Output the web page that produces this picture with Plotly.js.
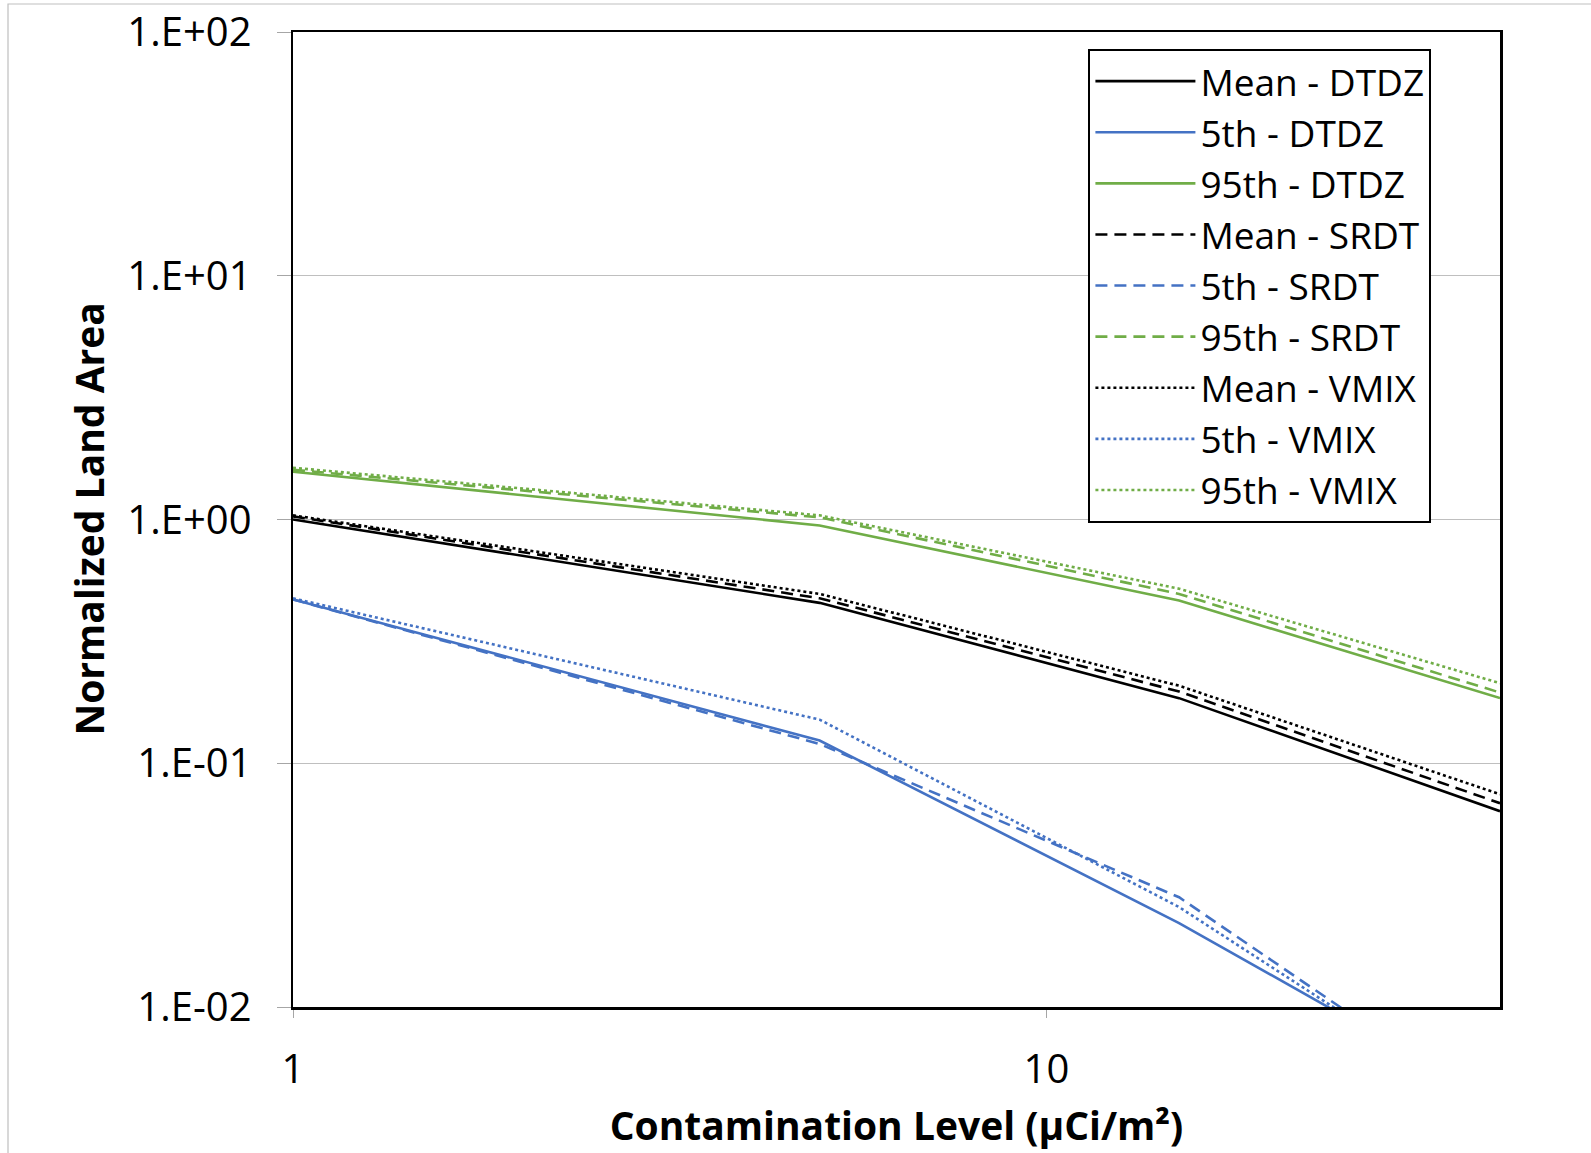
<!DOCTYPE html>
<html>
<head>
<meta charset="utf-8">
<script src="https://cdn.plot.ly/plotly-3.0.1.min.js"></script>
<style>html,body{margin:0;padding:0;background:#fff;}#chart{width:1591px;height:1153px;}</style>
</head>
<body>
<div id="chart"></div>
<script>
// Contamination level (µCi/m²)
const contamination = [1, 5, 15, 40];

// Normalized land area series
const meanDTDZ = [1.0, 0.455, 0.185, 0.0636];
const p5DTDZ   = [0.47, 0.124, 0.0221, 0.0040];
const p95DTDZ  = [1.57, 0.945, 0.465, 0.185];
const meanSRDT = [1.03, 0.475, 0.197, 0.0686];
const p5SRDT   = [0.47, 0.120, 0.0282, 0.00357];
const p95SRDT  = [1.60, 1.02, 0.495, 0.195];
const meanVMIX = [1.04, 0.495, 0.208, 0.0746];
const p5VMIX   = [0.475, 0.151, 0.0257, 0.0036];
const p95VMIX  = [1.63, 1.04, 0.52, 0.213];

const seriesNames = ["Mean - DTDZ","5th - DTDZ","95th - DTDZ","Mean - SRDT","5th - SRDT","95th - SRDT","Mean - VMIX","5th - VMIX","95th - VMIX"];
const seriesValues = [meanDTDZ,p5DTDZ,p95DTDZ,meanSRDT,p5SRDT,p95SRDT,meanVMIX,p5VMIX,p95VMIX];

const yTickVals = [0.01, 0.1, 1, 10, 100];
const yTickText = ["1.E-02","1.E-01","1.E+00","1.E+01","1.E+02"];
const xTickVals = [1, 10];
const xTickText = ["1","10"];
const xTitle = "Contamination Level (μCi/m²)";
const yTitle = "Normalized Land Area";

const colors = ["#000000","#4472C4","#70AD47"];
const dashes = ["solid","12px,7px","3px,3px"];

const traces = seriesValues.map((vals, i) => ({
  type: "scatter",
  mode: "lines",
  name: seriesNames[i],
  x: contamination,
  y: vals,
  line: {color: colors[i % 3], dash: dashes[Math.floor(i / 3)], width: 2.6}
}));

const FONT = "'Open Sans', Lato, 'DejaVu Sans', sans-serif";

const layout = {
  width: 1591,
  height: 1153,
  paper_bgcolor: "#ffffff",
  plot_bgcolor: "#ffffff",
  margin: {l: 293, r: 91, t: 32, b: 146},
  font: {family: FONT, color: "#000000", size: 36},
  showlegend: true,
  legend: {
    x: 0.659, y: 0.983, xanchor: "left", yanchor: "top",
    bordercolor: "#000000", borderwidth: 2, bgcolor: "#ffffff",
    font: {family: FONT, size: 37, color: "#000000"},
    itemwidth: 100,
    tracegroupgap: 0
  },
  xaxis: {
    type: "log",
    range: [0, Math.log10(40)],
    tickvals: xTickVals,
    ticktext: xTickText,
    ticks: "outside",
    ticklen: 8,
    tickcolor: "#a6a6a6",
    ticklabelstandoff: 17,
    showgrid: false,
    zeroline: false,
    showline: true,
    linecolor: "#000000",
    linewidth: 2.5,
    mirror: true,
    tickfont: {family: FONT, size: 40, color: "#000000"},
    title: {text: "<b>" + xTitle + "</b>", font: {family: FONT, size: 39, color: "#000000"}, standoff: 19}
  },
  yaxis: {
    type: "log",
    range: [-2, 2],
    tickvals: yTickVals,
    ticktext: yTickText,
    ticks: "outside",
    ticklen: 14,
    tickcolor: "#a6a6a6",
    ticklabelstandoff: 17,
    showgrid: true,
    gridcolor: "#bfbfbf",
    gridwidth: 1.3,
    zeroline: false,
    showline: true,
    linecolor: "#000000",
    linewidth: 2.5,
    mirror: true,
    tickfont: {family: FONT, size: 40, color: "#000000"}
  },
  annotations: [{
    text: "<b>" + yTitle + "</b>",
    xref: "paper", yref: "paper",
    x: -205/1207, y: 0.5, xanchor: "center", yanchor: "middle",
    textangle: -90, showarrow: false,
    font: {family: FONT, size: 39, color: "#000000"}
  }],
  shapes: [{
    type: "rect", xref: "paper", yref: "paper",
    x0: -285/1207, x1: 1.2, y0: -0.2, y1: 1 + 28/975,
    line: {color: "#bfbfbf", width: 1.2}, fillcolor: "rgba(0,0,0,0)", layer: "below"
  }]
};

Plotly.newPlot("chart", traces, layout, {displayModeBar: false, staticPlot: true});
</script>
</body>
</html>
